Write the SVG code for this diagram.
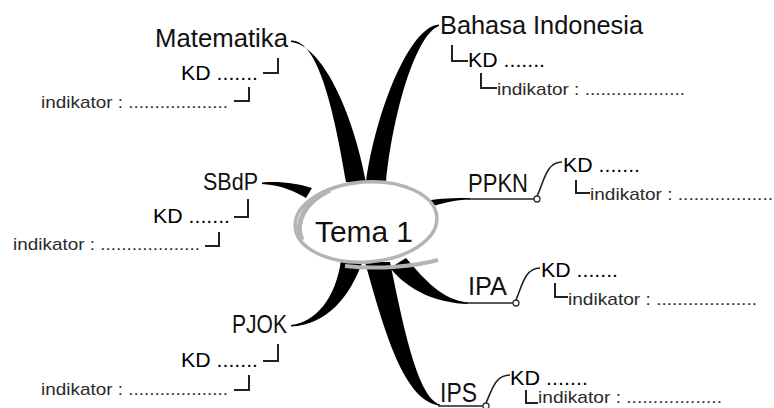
<svg xmlns="http://www.w3.org/2000/svg" width="774" height="408" viewBox="0 0 774 408">
<style>
.lbl{font-family:"Liberation Sans",Arial,sans-serif;fill:#111;}
.kd{font-family:"Liberation Sans",Arial,sans-serif;font-size:20px;fill:#000;}
.ind{font-family:"Liberation Sans",Arial,sans-serif;font-size:17px;fill:#2a2a2a;}
.br{fill:none;stroke:#222;stroke-width:2;}
.thin{fill:none;stroke:#222;stroke-width:1.6;}
.blk{fill:#000;stroke:none;}
.dot{fill:#fff;stroke:#333;stroke-width:1.3;}
</style>
<rect width="774" height="408" fill="#fff"/>
<g id="connectors">
  <path class="blk" d="M291,40.5 C318,40 334,110 346,182 L366,182 C353,112 322,45 291,42 Z"/>
  <path class="blk" d="M439,24.5 C410,26 376,110 366,182 L386,182 C393,112 416,34 439,26 Z"/>
  <path class="blk" d="M262,182.5 C282,181 298,184 312,188 L306,198 C296,192 282,185 262,184 Z"/>
  <path class="blk" d="M426,201 C440,198 455,198 470,198 L470,199.6 C455,200 442,203 428,208 Z"/>
  <path class="thin" d="M468,199 H534"/>
  <path class="thin" d="M537,196 C544,182 546,162 562,162"/>
  <path class="blk" d="M406,258 C425,280 442,300 468,302.5 L468,304 C438,303 410,292 390,268 Z"/>
  <path class="thin" d="M466,303 H513"/>
  <path class="thin" d="M516,300 C522,286 525,268 540,268"/>
  <path class="blk" d="M365,262 C384,330 404,402 440,405.5 L440,404.5 C418,398 404,330 390,262 Z"/>
  <path class="thin" d="M438,406 H483"/>
  <path class="thin" d="M486,403 C492,390 495,375 510,375"/>
  <path class="blk" d="M291,325 C316,322 336,298 341,260 L363,260 C350,298 326,325 291,326.5 Z"/>
  <path class="br" d="M278,58 V73 H263"/>
  <path class="br" d="M249,87 V101 H234"/>
  <path class="br" d="M248,199 V217 H234"/>
  <path class="br" d="M219,232 V246 H205"/>
  <path class="br" d="M278,344 V361 H263"/>
  <path class="br" d="M249,375 V390 H234"/>
  <path class="br" d="M452,45 V61 H468"/>
  <path class="br" d="M481,73 V88 H497"/>
  <path class="br" d="M576,180 V193 H590"/>
  <path class="br" d="M555,283 V297 H568"/>
  <path class="br" d="M526,390 V403 H538"/>
  <circle class="dot" cx="537" cy="199" r="3"/>
  <circle class="dot" cx="516" cy="303" r="3"/>
  <circle class="dot" cx="486" cy="406" r="3"/>
</g>
<g id="tema1">
  <ellipse cx="366" cy="222" rx="71" ry="40" transform="rotate(-4 366 222)" fill="#fff" stroke="#b4b4b4" stroke-width="3.5"/>
  <path d="M330,190 C305,202 294,222 302,240" fill="none" stroke="#b4b4b4" stroke-width="5"/>
  <path d="M345,266 C380,270 415,266 438,260" fill="none" stroke="#b4b4b4" stroke-width="4"/>
  <text class="lbl" x="315" y="242" font-size="29" textLength="98" lengthAdjust="spacingAndGlyphs">Tema 1</text>
</g>
<g id="matematika">
  <text class="lbl" x="155" y="47" font-size="26" textLength="133" lengthAdjust="spacingAndGlyphs">Matematika</text>
  <text class="kd" x="181" y="80" textLength="77" lengthAdjust="spacingAndGlyphs">KD .......</text>
  <text class="ind" x="41" y="108" textLength="187" lengthAdjust="spacingAndGlyphs">indikator : ...................</text>
</g>
<g id="bahasa">
  <text class="lbl" x="440" y="34" font-size="26" textLength="203" lengthAdjust="spacingAndGlyphs">Bahasa Indonesia</text>
  <text class="kd" x="468" y="67" textLength="77" lengthAdjust="spacingAndGlyphs">KD .......</text>
  <text class="ind" x="497" y="95" textLength="188" lengthAdjust="spacingAndGlyphs">indikator : ...................</text>
</g>
<g id="sbdp">
  <text class="lbl" x="203" y="190" font-size="24" textLength="55" lengthAdjust="spacingAndGlyphs">SBdP</text>
  <text class="kd" x="153" y="223" textLength="77" lengthAdjust="spacingAndGlyphs">KD .......</text>
  <text class="ind" x="13" y="250" textLength="187" lengthAdjust="spacingAndGlyphs">indikator : ...................</text>
</g>
<g id="ppkn">
  <text class="lbl" x="468" y="192" font-size="26" textLength="60" lengthAdjust="spacingAndGlyphs">PPKN</text>
  <text class="kd" x="563" y="172" textLength="77" lengthAdjust="spacingAndGlyphs">KD .......</text>
  <text class="ind" x="590" y="200" textLength="183" lengthAdjust="spacingAndGlyphs">indikator : ..................</text>
</g>
<g id="ipa">
  <text class="lbl" x="468" y="295" font-size="26" textLength="39" lengthAdjust="spacingAndGlyphs">IPA</text>
  <text class="kd" x="541" y="277" textLength="77" lengthAdjust="spacingAndGlyphs">KD .......</text>
  <text class="ind" x="568" y="305" textLength="189" lengthAdjust="spacingAndGlyphs">indikator : ...................</text>
</g>
<g id="ips">
  <text class="lbl" x="440" y="402" font-size="27" textLength="37" lengthAdjust="spacingAndGlyphs">IPS</text>
  <text class="kd" x="510" y="385" textLength="78" lengthAdjust="spacingAndGlyphs">KD .......</text>
  <text class="ind" x="538" y="403" textLength="184" lengthAdjust="spacingAndGlyphs">indikator : ..................</text>
</g>
<g id="pjok">
  <text class="lbl" x="232" y="333" font-size="25" textLength="55" lengthAdjust="spacingAndGlyphs">PJOK</text>
  <text class="kd" x="181" y="367" textLength="77" lengthAdjust="spacingAndGlyphs">KD .......</text>
  <text class="ind" x="41" y="395" textLength="187" lengthAdjust="spacingAndGlyphs">indikator : ...................</text>
</g>
</svg>
